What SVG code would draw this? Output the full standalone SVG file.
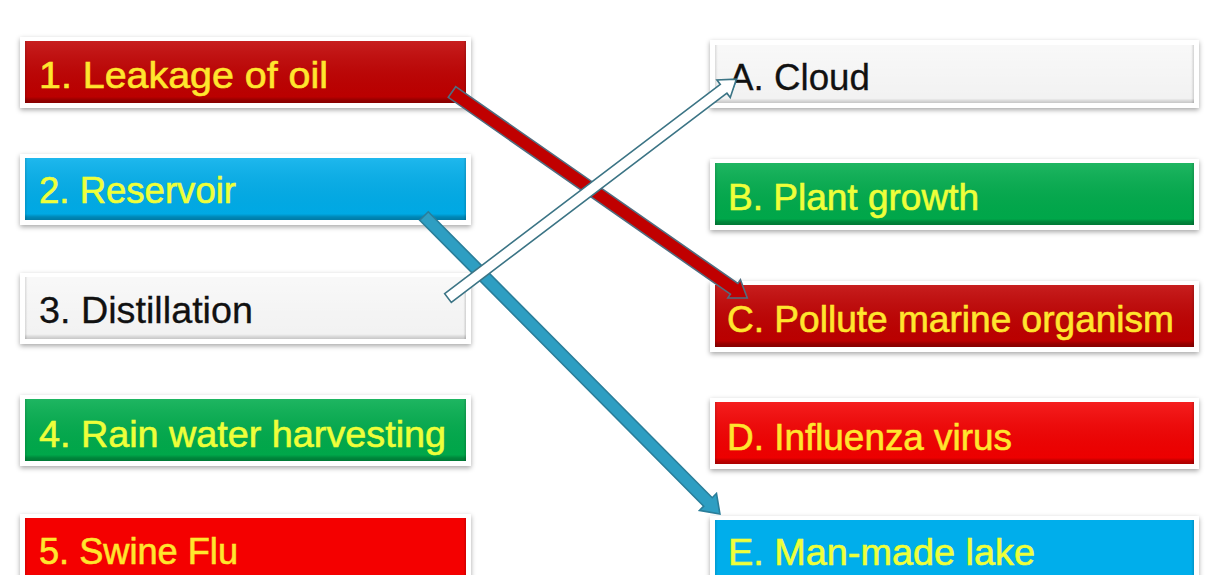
<svg xmlns="http://www.w3.org/2000/svg" width="1217" height="575" viewBox="0 0 1217 575">
  <defs>
    <filter id="shadow" x="-5%" y="-20%" width="110%" height="150%">
      <feDropShadow dx="0" dy="2" stdDeviation="2.5" flood-color="#000" flood-opacity="0.35"/>
    </filter>
    <linearGradient id="bevel" x1="0" y1="0" x2="0" y2="1">
      <stop offset="0" stop-color="#fff" stop-opacity="0.12"/>
      <stop offset="0.9" stop-color="#000" stop-opacity="0.03"/>
      <stop offset="0.95" stop-color="#000" stop-opacity="0.22"/>
      <stop offset="1" stop-color="#000" stop-opacity="0.3"/>
    </linearGradient>
    <linearGradient id="bevelLight" x1="0" y1="0" x2="0" y2="1">
      <stop offset="0" stop-color="#fff" stop-opacity="0.5"/>
      <stop offset="0.9" stop-color="#fff" stop-opacity="0"/>
      <stop offset="0.92" stop-color="#000" stop-opacity="0"/>
      <stop offset="0.96" stop-color="#000" stop-opacity="0.1"/>
      <stop offset="1" stop-color="#000" stop-opacity="0.18"/>
    </linearGradient>
    <linearGradient id="bevelSide" x1="0" y1="0" x2="1" y2="0">
      <stop offset="0" stop-color="#000" stop-opacity="0.12"/>
      <stop offset="0.006" stop-color="#000" stop-opacity="0"/>
      <stop offset="0.994" stop-color="#000" stop-opacity="0"/>
      <stop offset="1" stop-color="#000" stop-opacity="0.15"/>
    </linearGradient>
  </defs>
  <style>
    .frame { fill: #ffffff; filter: url(#shadow); }
    .bevel { fill: url(#bevel); }
    .bevel-light { fill: url(#bevelLight); }
    .side { fill: url(#bevelSide); }
    .label { font-family: "Liberation Sans", Arial, sans-serif; font-size: 37px; stroke-width: 0.6px; }
    .yellow { fill: #FFE62E; stroke: #FFE62E; }
    .lime { fill: #EEFF3A; stroke: #EEFF3A; }
    .dark { fill: #111111; stroke: #111111; stroke-width: 0.3px; }
    .dred { fill: #C00000; }
    .red { fill: #F40000; }
    .blue { fill: #00AEEB; }
    .green { fill: #00AC4C; }
    .light { fill: #F2F2F2; }
  </style>

  <rect width="1217" height="575" fill="#ffffff"/>

  <!-- left column -->
  <g id="n1">
    <rect class="frame" x="20" y="37" width="451" height="71"/>
    <rect class="dred" x="25" y="41" width="441" height="62"/>
    <rect class="bevel" x="25" y="41" width="441" height="62"/>
    <rect class="side" x="25" y="41" width="441" height="62"/>
    <text class="label yellow" x="39" y="88" textLength="289" lengthAdjust="spacingAndGlyphs">1. Leakage of oil</text>
  </g>
  <g id="n2">
    <rect class="frame" x="20" y="154" width="451" height="71"/>
    <rect class="blue" x="25" y="158" width="441" height="62"/>
    <rect class="bevel" x="25" y="158" width="441" height="62"/>
    <rect class="side" x="25" y="158" width="441" height="62"/>
    <text class="label lime" x="39" y="203" textLength="197" lengthAdjust="spacingAndGlyphs">2. Reservoir</text>
  </g>
  <g id="n3">
    <rect class="frame" x="20" y="273" width="451" height="71"/>
    <rect class="light" x="25" y="277" width="441" height="62"/>
    <rect class="bevel-light" x="25" y="277" width="441" height="62"/>
    <rect class="side" x="25" y="277" width="441" height="62"/>
    <text class="label dark" x="39" y="323" textLength="214" lengthAdjust="spacingAndGlyphs">3. Distillation</text>
  </g>
  <g id="n4">
    <rect class="frame" x="20" y="395" width="451" height="71"/>
    <rect class="green" x="25" y="399" width="441" height="62"/>
    <rect class="bevel" x="25" y="399" width="441" height="62"/>
    <rect class="side" x="25" y="399" width="441" height="62"/>
    <text class="label lime" x="39" y="447" textLength="407" lengthAdjust="spacingAndGlyphs">4. Rain water harvesting</text>
  </g>
  <g id="n5">
    <rect class="frame" x="20" y="514" width="451" height="71"/>
    <rect class="red" x="25" y="518" width="441" height="62"/>
    <rect class="side" x="25" y="518" width="441" height="62"/>
    <text class="label yellow" x="39" y="564" textLength="199" lengthAdjust="spacingAndGlyphs">5. Swine Flu</text>
  </g>

  <!-- right column -->
  <g id="nA">
    <rect class="frame" x="710" y="40" width="489" height="68"/>
    <rect class="light" x="715" y="45" width="479" height="58"/>
    <rect class="bevel-light" x="715" y="45" width="479" height="58"/>
    <rect class="side" x="715" y="45" width="479" height="58"/>
    <text class="label dark" x="729" y="90" textLength="141" lengthAdjust="spacingAndGlyphs">A. Cloud</text>
  </g>
  <g id="nB">
    <rect class="frame" x="710" y="159" width="489" height="71"/>
    <rect class="green" x="715" y="163" width="479" height="62"/>
    <rect class="bevel" x="715" y="163" width="479" height="62"/>
    <rect class="side" x="715" y="163" width="479" height="62"/>
    <text class="label lime" x="728" y="210" textLength="251" lengthAdjust="spacingAndGlyphs">B. Plant growth</text>
  </g>
  <g id="nC">
    <rect class="frame" x="710" y="281" width="489" height="71"/>
    <rect class="dred" x="715" y="285" width="479" height="62"/>
    <rect class="bevel" x="715" y="285" width="479" height="62"/>
    <rect class="side" x="715" y="285" width="479" height="62"/>
    <text class="label yellow" x="727" y="332" textLength="447" lengthAdjust="spacingAndGlyphs">C. Pollute marine organism</text>
  </g>
  <g id="nD">
    <rect class="frame" x="710" y="398" width="489" height="71"/>
    <rect class="red" x="715" y="402" width="479" height="62"/>
    <rect class="bevel" x="715" y="402" width="479" height="62"/>
    <rect class="side" x="715" y="402" width="479" height="62"/>
    <text class="label yellow" x="727" y="450" textLength="285" lengthAdjust="spacingAndGlyphs">D. Influenza virus</text>
  </g>
  <g id="nE">
    <rect class="frame" x="710" y="516" width="489" height="71"/>
    <rect class="blue" x="715" y="520" width="479" height="62"/>
    <rect class="side" x="715" y="520" width="479" height="62"/>
    <text class="label lime" x="728" y="565" textLength="307" lengthAdjust="spacingAndGlyphs">E. Man-made lake</text>
  </g>

  <!-- connectors: block arrows drawn along +x, then placed and rotated -->
  <g id="connectors" stroke-linejoin="miter">
    <!-- 1 -> C -->
    <polygon transform="translate(452,92) rotate(34.9)"
             points="0,-6.5 344,-6.5 344,-11 360,0 344,11 344,6.5 0,6.5"
             fill="#C00000" stroke="#4F6D80" stroke-width="1.6"/>
    <!-- 2 -> E -->
    <polygon transform="translate(424,216) rotate(45.2)"
             points="0,-6 403,-6 403,-12 420,0 403,12 403,6 0,6"
             fill="#2E9EC2" stroke="#2A7E9A" stroke-width="1.6"/>
    <!-- 3 -> A -->
    <polygon transform="translate(448,298) rotate(-37.2)"
             points="0,-5.5 346,-5.5 346,-11 362,0 346,11 346,5.5 0,5.5"
             fill="#FFFFFF" stroke="#3B7485" stroke-width="1.6"/>
  </g>
</svg>
